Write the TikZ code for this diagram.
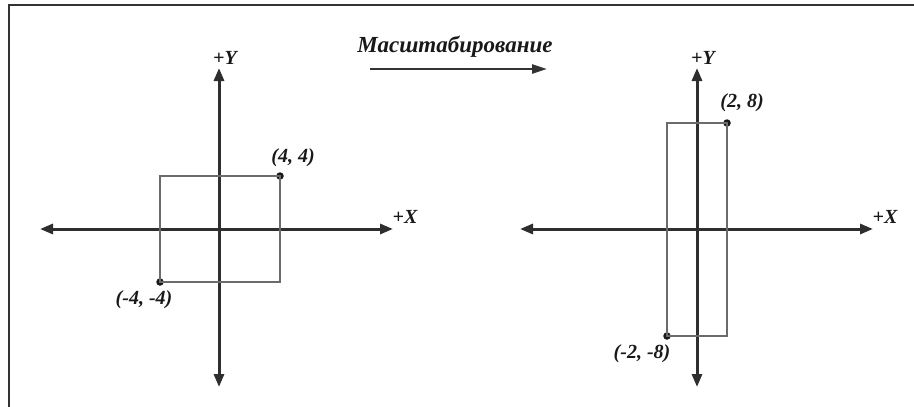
\documentclass[tikz,border=0pt]{standalone}
\usepackage{fontspec}
\setmainfont{Liberation Serif}
\usetikzlibrary{arrows.meta}
\begin{document}
\begin{tikzpicture}[x=1pt,y=-1pt,
  axisline/.style={draw=black!82, line width=3pt,
    {Triangle[length=13pt,width=10pt]}-{Triangle[length=13pt,width=10pt]}},
  shapeline/.style={draw=black!58, line width=1.8pt},
  lbl/.style={font=\bfseries\itshape\fontsize{20}{20}\selectfont, inner sep=0pt, text=black!90},
  ptdot/.style={circle, fill=black!90, inner sep=0pt, minimum size=7.5pt}]
\useasboundingbox (0,0) rectangle (914,407);
% frame
\coordinate (fb) at (9,407);
\coordinate (fc) at (9,5);
\coordinate (fr) at (914,5);
\draw[line width=2.6pt, black!80] (fb) -- (fc) -- (fr);
% title and arrow
\node[lbl, font=\bfseries\itshape\fontsize{23}{23}\selectfont] (title) at (455,47) {Масштабирование};
\coordinate (ta) at (370,69);
\coordinate (tb) at (547,69);
\draw[draw=black!80, line width=2.2pt, -{Triangle[length=15pt,width=9pt]}] (ta) -- (tb);
% left axes
\coordinate (Lxl) at (40,229);
\coordinate (Lxr) at (393,229);
\coordinate (Lyt) at (219,68);
\coordinate (Lyb) at (219,387);
\draw[axisline] (Lxl) -- (Lxr);
\draw[axisline] (Lyt) -- (Lyb);
\node[lbl] (LX) at (405,217) {+X};
\node[lbl] (LY) at (225,58) {+Y};
% left square
\node[ptdot] (Lp1) at (280,176) {};
\node[ptdot] (Lp2) at (160,282) {};
\draw[shapeline] (Lp2.center) -- (160,176) -- (Lp1.center) -- (280,282) -- cycle;
\node[lbl] (Ll1) at (293,158) {(4, 4)};
\node[lbl] (Ll2) at (144,300) {(-4, -4)};
% right axes
\coordinate (Rxl) at (520,229);
\coordinate (Rxr) at (873,229);
\coordinate (Ryt) at (697,68);
\coordinate (Ryb) at (697,387);
\draw[axisline] (Rxl) -- (Rxr);
\draw[axisline] (Ryt) -- (Ryb);
\node[lbl] (RX) at (885,217) {+X};
\node[lbl] (RY) at (703,58) {+Y};
% right rectangle
\node[ptdot] (Rp1) at (727,123) {};
\node[ptdot] (Rp2) at (667,336) {};
\draw[shapeline] (Rp2.center) -- (667,123) -- (Rp1.center) -- (727,336) -- cycle;
\node[lbl] (Rl1) at (742,103) {(2, 8)};
\node[lbl] (Rl2) at (642,354) {(-2, -8)};
\end{tikzpicture}
\end{document}
